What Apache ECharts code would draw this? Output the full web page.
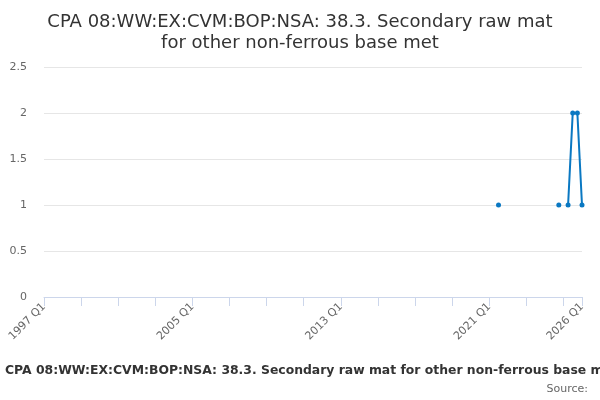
<!DOCTYPE html>
<html><head><meta charset="utf-8">
<script src="https://cdn.jsdelivr.net/npm/echarts@6/dist/echarts.min.js"></script>
<style>html,body{margin:0;padding:0;background:#fff}#c{width:600px;height:400px}</style>
</head><body><div id="c"></div>
<script>
const titleText = 'CPA 08:WW:EX:CVM:BOP:NSA: 38.3. Secondary raw mat\nfor other non-ferrous base met';
const seriesName = 'CPA 08:WW:EX:CVM:BOP:NSA: 38.3. Secondary raw mat for other non-ferrous base met';
const sourceText = 'Source:';
const startYear = 1997, endYear = 2026;
const quarters = [];
for (let y = startYear; y <= endYear; y++) for (let q = 1; q <= 4; q++) { if (y === endYear && q > 1) break; quarters.push(y + ' Q' + q); }
const observedQuarters = ['2021 Q3', '2024 Q4', '2025 Q2', '2025 Q3', '2025 Q4', '2026 Q1'];
const observedValues = [1, 1, 1, 2, 2, 1];
const values = quarters.map(k => { const i = observedQuarters.indexOf(k); return i >= 0 ? observedValues[i] : null; });
const yTicks = [0, 0.5, 1, 1.5, 2, 2.5];
const last = quarters.length - 1;
const font = 'DejaVu Sans';
const chart = echarts.init(document.getElementById('c'), null, { renderer: 'canvas' });
chart.setOption({
  animation: false,
  title: { text: titleText, left: 'center', top: 7, textStyle: { fontFamily: font, fontSize: 18, fontWeight: 'normal', color: '#333', lineHeight: 21 } },
  grid: { left: 44, right: 18, top: 67, bottom: 103, containLabel: false },
  xAxis: {
    type: 'category', data: quarters, boundaryGap: false,
    axisLine: { lineStyle: { color: '#ccd6eb', width: 1 } },
    axisTick: { length: 9, lineStyle: { color: '#ccd6eb' }, interval: (i) => i % 8 === 0 || i === last },
    axisLabel: { rotate: 45, interval: (i) => i % 32 === 0 || i === last, color: '#666', fontFamily: font, fontSize: 11, margin: 8 },
    splitLine: { show: false }
  },
  yAxis: {
    type: 'value', min: yTicks[0], max: yTicks[yTicks.length - 1], interval: 0.5,
    axisLine: { show: false }, axisTick: { show: false },
    axisLabel: { color: '#666', fontFamily: font, fontSize: 11, margin: 17 },
    splitLine: { lineStyle: { color: '#e6e6e6' } }
  },
  series: [{
    name: seriesName, type: 'line', data: values, connectNulls: false,
    symbol: 'circle', symbolSize: 5, showSymbol: true, showAllSymbol: true,
    lineStyle: { color: '#0a78c2', width: 2 }, itemStyle: { color: '#0a78c2' }
  }],
  graphic: [
    { type: 'text', left: 5, top: 365, style: { text: seriesName, fontFamily: font, fontSize: 12.4, fontWeight: 'bold', fill: '#333' } },
    { type: 'text', right: 12, top: 384, style: { text: sourceText, fontFamily: font, fontSize: 11, fill: '#666' } }
  ]
});
</script></body></html>
